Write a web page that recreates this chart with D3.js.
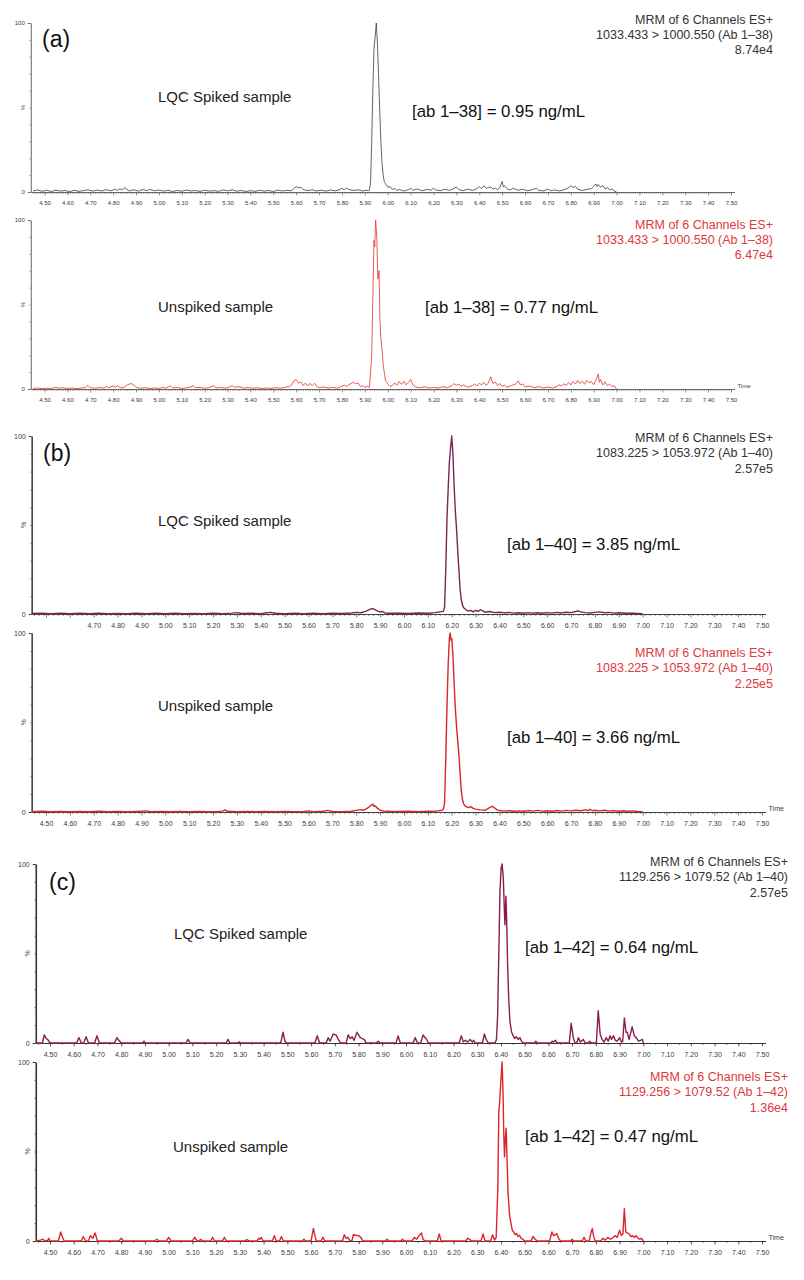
<!DOCTYPE html>
<html>
<head>
<meta charset="utf-8">
<script src="https://cdn.jsdelivr.net/npm/d3@7"></script>
<style>
  body { margin: 0; background: #fff; }
  svg { display: block; font-family: "Liberation Sans", Arial, sans-serif; }
</style>
</head>
<body>
<svg id="chart" width="804" height="1280"></svg>
<script>
// ---- data: [time (min), intensity (%)] ----
const traceA1 = [
  [4.45,0.6],[4.47,1.2],[4.49,0.4],[4.51,1.0],[4.53,0.3],[4.55,1.1],[4.57,0.5],[4.59,0.9],[4.61,0.2],[4.63,1.0],
  [4.65,0.4],[4.67,0.8],[4.69,1.3],[4.71,0.5],[4.73,1.1],[4.75,0.6],[4.77,1.4],[4.79,0.7],[4.81,1.6],[4.82,0.9],
  [4.83,2.0],[4.84,1.2],[4.85,2.6],[4.86,1.5],[4.87,0.6],[4.89,1.3],[4.91,0.5],[4.93,1.4],[4.95,0.8],[4.96,1.6],
  [4.98,0.7],[5.00,1.2],[5.02,0.5],[5.04,1.0],[5.06,0.3],[5.08,0.9],[5.10,0.4],[5.12,1.2],[5.14,0.6],[5.16,0.9],
  [5.18,0.3],[5.20,1.1],[5.22,0.5],[5.24,0.8],[5.26,0.4],[5.28,1.2],[5.30,0.7],[5.32,1.3],[5.34,0.5],[5.36,0.9],
  [5.38,0.3],[5.40,0.8],[5.42,0.4],[5.44,1.0],[5.46,0.5],[5.48,0.9],[5.50,0.3],[5.52,1.1],[5.54,0.6],[5.56,1.0],
  [5.58,0.7],[5.59,2.2],[5.60,3.2],[5.61,2.4],[5.62,2.9],[5.63,1.4],[5.65,0.8],[5.67,1.3],[5.69,0.6],[5.71,1.1],
  [5.73,0.5],[5.75,1.2],[5.77,0.7],[5.79,1.4],[5.80,2.2],[5.81,1.3],[5.82,2.4],[5.83,1.5],[5.85,0.9],[5.87,1.3],
  [5.89,0.6],[5.905,1.0],[5.915,0.8],[5.92,1.0],[5.925,6],[5.93,30],[5.935,62],[5.94,85],[5.945,92],[5.95,100],
  [5.955,88],[5.96,68],[5.965,48],[5.97,30],[5.975,17],[5.98,10],[5.985,6],[5.99,5],[5.995,4],[6.00,2.8],
  [6.01,3.3],[6.02,1.5],[6.03,2.2],[6.04,0.8],[6.05,1.5],[6.07,0.6],[6.09,1.4],[6.10,2.2],[6.11,1.0],[6.13,1.8],
  [6.15,0.7],[6.17,1.5],[6.19,1.1],[6.20,2.3],[6.21,1.2],[6.23,0.8],[6.25,1.6],[6.27,0.9],[6.29,2.1],[6.30,3.0],
  [6.31,1.4],[6.33,0.8],[6.35,1.7],[6.37,0.9],[6.39,2.0],[6.40,3.2],[6.41,2.0],[6.42,3.6],[6.43,2.2],[6.45,3.0],
  [6.46,1.6],[6.47,2.4],[6.48,1.3],[6.49,2.8],[6.50,6.2],[6.505,3.0],[6.51,3.8],[6.52,2.0],[6.53,1.2],[6.55,2.1],
  [6.57,1.0],[6.59,1.6],[6.61,0.7],[6.63,1.3],[6.65,2.2],[6.66,1.0],[6.68,0.6],[6.70,1.8],[6.71,0.8],[6.73,1.2],
  [6.75,0.6],[6.77,1.3],[6.79,2.4],[6.80,3.8],[6.81,2.6],[6.82,3.4],[6.83,1.6],[6.85,0.9],[6.87,1.5],[6.89,2.0],
  [6.90,3.3],[6.91,4.8],[6.915,3.2],[6.92,4.4],[6.93,2.8],[6.94,3.8],[6.95,1.8],[6.96,2.6],[6.97,1.2],[6.98,1.8],
  [6.99,0.6],[7.00,0]
];

const traceA2 = [
  [4.45,0.3],[4.47,0.6],[4.49,0.2],[4.51,0.5],[4.53,0.3],[4.55,1.0],[4.56,0.4],[4.58,0.8],[4.60,0.3],[4.62,0.6],
  [4.64,0.2],[4.66,0.5],[4.68,0.9],[4.69,2.2],[4.70,0.8],[4.72,0.4],[4.74,0.9],[4.76,0.5],[4.77,1.5],[4.78,0.7],
  [4.80,1.8],[4.81,1.1],[4.82,2.0],[4.83,0.7],[4.85,1.0],[4.86,2.2],[4.87,2.9],[4.88,3.2],[4.89,2.4],[4.90,1.0],
  [4.92,0.4],[4.94,0.8],[4.96,0.3],[4.98,0.6],[5.00,0.3],[5.02,1.0],[5.03,0.5],[5.05,1.8],[5.06,0.6],[5.08,0.9],
  [5.10,0.3],[5.12,0.7],[5.14,1.2],[5.15,1.9],[5.16,0.8],[5.18,1.0],[5.20,0.4],[5.22,0.8],[5.24,2.0],[5.25,0.6],
  [5.27,0.9],[5.29,0.4],[5.31,1.3],[5.32,2.0],[5.33,1.0],[5.35,1.4],[5.37,0.5],[5.39,0.9],[5.41,0.4],[5.43,0.7],
  [5.45,0.3],[5.47,0.6],[5.49,0.3],[5.51,0.8],[5.53,0.4],[5.55,0.9],[5.57,1.5],[5.58,2.5],[5.59,4.8],[5.60,5.6],
  [5.61,3.5],[5.62,4.2],[5.63,2.0],[5.64,3.5],[5.65,1.8],[5.66,3.3],[5.67,2.0],[5.68,3.4],[5.69,1.5],[5.70,0.8],
  [5.72,1.2],[5.74,0.5],[5.76,1.0],[5.78,0.4],[5.80,1.6],[5.81,2.3],[5.82,1.4],[5.83,2.6],[5.84,3.2],[5.85,4.0],
  [5.86,3.0],[5.87,3.6],[5.88,1.5],[5.89,2.0],[5.90,0.8],[5.91,1.6],[5.92,1.0],[5.93,20],[5.935,55],[5.94,88],
  [5.943,84],[5.947,100],[5.952,90],[5.957,65],[5.962,70],[5.966,40],[5.97,30],[5.976,22],[5.98,14],[5.986,9],
  [5.99,5],[6.00,3],[6.01,1.5],[6.02,2.0],[6.03,3.6],[6.04,2.2],[6.05,4.4],[6.06,2.8],[6.07,4.6],[6.08,2.5],
  [6.09,3.8],[6.10,5.6],[6.11,2.4],[6.12,1.2],[6.14,0.7],[6.16,1.3],[6.18,0.6],[6.20,1.0],[6.22,0.5],[6.24,1.4],
  [6.26,0.8],[6.28,2.0],[6.29,3.2],[6.30,2.2],[6.31,3.0],[6.32,1.6],[6.33,2.4],[6.35,1.0],[6.37,2.0],[6.38,3.0],
  [6.39,1.8],[6.40,3.4],[6.41,2.4],[6.42,4.0],[6.43,2.2],[6.44,3.5],[6.45,7.2],[6.46,3.2],[6.47,4.2],[6.48,2.0],
  [6.49,3.2],[6.50,1.5],[6.51,2.4],[6.52,1.0],[6.54,2.0],[6.56,3.0],[6.57,4.8],[6.58,2.4],[6.59,3.0],[6.60,1.2],
  [6.62,1.8],[6.64,0.7],[6.66,1.4],[6.68,0.6],[6.70,1.2],[6.72,0.5],[6.74,1.5],[6.75,2.5],[6.76,1.8],[6.77,3.0],
  [6.78,2.2],[6.79,3.8],[6.80,2.4],[6.81,4.5],[6.82,3.0],[6.83,5.0],[6.84,3.2],[6.85,4.6],[6.86,2.8],[6.87,5.2],
  [6.88,3.6],[6.89,4.4],[6.90,2.6],[6.91,5.4],[6.92,8.8],[6.925,4.0],[6.93,5.6],[6.94,2.4],[6.95,4.2],[6.96,2.0],
  [6.97,3.0],[6.98,1.4],[6.99,2.0],[7.00,0]
];

const traceB1 = [
  [4.44,0.3],[4.48,0.5],[4.52,0.2],[4.56,0.4],[4.60,0.1],[4.64,0.4],[4.68,0.2],[4.72,0.5],[4.76,0.2],[4.80,0.3],
  [4.84,0.1],[4.88,0.4],[4.92,0.2],[4.96,0.5],[5.00,0.2],[5.04,0.4],[5.08,0.2],[5.12,0.3],[5.16,0.1],[5.20,0.4],
  [5.24,0.2],[5.28,0.5],[5.30,0.8],[5.32,0.3],[5.36,0.4],[5.40,0.2],[5.42,0.6],[5.44,0.9],[5.46,0.4],[5.50,0.2],
  [5.54,0.4],[5.58,0.2],[5.62,0.5],[5.66,0.2],[5.70,0.4],[5.74,0.3],[5.78,0.6],[5.80,0.9],[5.82,0.7],[5.84,1.5],
  [5.85,2.2],[5.86,2.8],[5.87,3.0],[5.88,2.3],[5.89,1.6],[5.90,1.2],[5.91,1.4],[5.92,0.6],[5.94,0.4],[5.98,0.5],
  [6.02,0.3],[6.06,0.6],[6.10,0.4],[6.13,0.8],[6.15,1.2],[6.165,1.5],[6.17,4],[6.175,25],[6.18,53],[6.185,70],
  [6.19,85],[6.195,93],[6.20,100],[6.205,90],[6.21,72],[6.215,58],[6.22,48],[6.225,36],[6.23,25],[6.235,14],
  [6.24,8],[6.245,5],[6.25,3.5],[6.26,2.4],[6.27,1.6],[6.28,2.0],[6.29,1.2],[6.30,2.0],[6.31,1.5],[6.32,2.4],
  [6.33,1.8],[6.34,1.0],[6.36,1.4],[6.38,0.8],[6.40,1.0],[6.42,0.6],[6.44,0.9],[6.46,0.5],[6.48,0.7],[6.50,0.4],
  [6.52,0.8],[6.54,0.5],[6.56,0.7],[6.58,0.4],[6.60,0.8],[6.62,0.5],[6.64,0.9],[6.66,0.6],[6.68,1.0],[6.70,0.8],
  [6.72,1.4],[6.73,1.8],[6.74,1.2],[6.76,0.8],[6.78,0.6],[6.80,0.9],[6.82,1.2],[6.84,0.7],[6.86,0.9],[6.88,0.5],
  [6.90,0.7],[6.93,0.4],[6.96,0.5],[7.00,0.2]
];

const traceB2 = [
  [4.44,0.2],[4.48,0.4],[4.52,0.1],[4.56,0.3],[4.60,0.1],[4.64,0.3],[4.68,0.1],[4.72,0.4],[4.76,0.2],[4.80,0.3],
  [4.84,0.1],[4.88,0.3],[4.92,0.6],[4.94,0.2],[4.98,0.3],[5.02,0.1],[5.06,0.3],[5.10,0.2],[5.14,0.3],[5.18,0.1],
  [5.22,0.3],[5.24,0.5],[5.25,1.2],[5.26,0.4],[5.30,0.2],[5.34,0.3],[5.38,0.1],[5.42,0.3],[5.46,0.2],[5.50,0.3],
  [5.54,0.2],[5.58,0.3],[5.60,0.6],[5.62,0.2],[5.66,0.4],[5.68,0.9],[5.70,0.3],[5.74,0.2],[5.78,0.4],[5.80,0.9],
  [5.82,1.3],[5.83,1.0],[5.84,1.6],[5.85,2.4],[5.86,3.6],[5.87,4.4],[5.875,3.0],[5.88,3.4],[5.89,2.0],[5.90,1.0],
  [5.91,0.6],[5.94,0.4],[5.98,0.3],[6.02,0.4],[6.06,0.2],[6.10,0.4],[6.14,0.6],[6.16,1.0],[6.165,1.5],[6.17,5],
  [6.175,30],[6.18,58],[6.185,82],[6.19,97],[6.193,100],[6.197,96],[6.20,97],[6.205,88],[6.21,72],[6.215,58],
  [6.22,48],[6.225,40],[6.23,32],[6.235,22],[6.24,12],[6.245,7],[6.25,4.5],[6.255,3.6],[6.26,3.0],[6.27,2.4],
  [6.28,3.0],[6.29,2.0],[6.30,1.6],[6.32,1.2],[6.34,1.0],[6.35,1.8],[6.36,2.6],[6.37,3.2],[6.38,2.2],[6.39,1.2],
  [6.40,0.8],[6.42,0.5],[6.44,0.7],[6.46,0.4],[6.48,0.6],[6.50,0.4],[6.52,0.8],[6.54,0.5],[6.56,0.9],[6.58,0.5],
  [6.60,0.7],[6.62,0.4],[6.64,0.8],[6.66,0.5],[6.68,0.9],[6.70,0.6],[6.72,1.0],[6.74,0.7],[6.76,1.2],[6.77,0.8],
  [6.78,1.4],[6.79,0.7],[6.80,1.0],[6.82,0.6],[6.84,1.0],[6.86,0.5],[6.88,0.8],[6.90,0.4],[6.92,0.7],[6.94,0.4],
  [6.96,0.6],[6.98,0.3],[7.00,0.2]
];

const traceC1 = [
  [4.44,0],[4.468,0],[4.476,4.5],[4.484,2.5],[4.49,2.0],[4.50,0],[4.612,0],[4.622,3],[4.632,0],[4.642,0],
  [4.652,3.5],[4.662,0],[4.688,0],[4.698,4],[4.708,0],[4.772,0],[4.782,3],[4.79,1.5],[4.80,0],[4.89,0],
  [4.896,1],[4.902,0],[5.074,0],[5.082,2],[5.09,0],[5.242,0],[5.25,2],[5.258,0],[5.29,0],[5.297,0.6],
  [5.304,0],[5.472,0],[5.482,6],[5.49,1],[5.496,0],[5.616,0],[5.626,4],[5.636,0],[5.664,0],[5.672,3],
  [5.68,1],[5.693,5],[5.705,4.5],[5.715,2],[5.724,0],[5.748,0],[5.756,4.5],[5.765,2.5],[5.773,3.5],[5.781,1.5],
  [5.794,6],[5.807,3],[5.816,2.5],[5.824,2],[5.832,0],[5.876,0],[5.883,1],[5.89,0],[5.958,0],[5.967,4],
  [5.976,0],[6.03,0],[6.039,3],[6.048,0],[6.062,0],[6.072,4.5],[6.08,3],[6.085,2.5],[6.094,0],[6.224,0],
  [6.233,4],[6.242,0.5],[6.25,1.5],[6.26,0.5],[6.27,2],[6.28,0.5],[6.285,1.5],[6.292,0],[6.322,0],[6.33,5],
  [6.338,2],[6.346,0],[6.375,0],[6.381,2],[6.386,15],[6.391,50],[6.396,85],[6.401,98],[6.405,100],[6.41,92],
  [6.414,76],[6.417,66],[6.421,82],[6.424,70],[6.428,44],[6.433,24],[6.438,12],[6.445,6],[6.452,4],[6.458,2.5],
  [6.465,3.5],[6.473,2],[6.48,3],[6.487,1],[6.494,0],[6.54,0],[6.547,1],[6.554,0],[6.61,0],[6.616,1],
  [6.622,0.5],[6.63,1.5],[6.636,0],[6.688,0],[6.696,11],[6.705,3],[6.712,0],[6.72,0],[6.726,3],[6.735,0.5],
  [6.747,2],[6.755,0],[6.768,0],[6.774,1],[6.78,0],[6.802,0],[6.81,18],[6.818,5],[6.826,2],[6.834,0.5],
  [6.844,3],[6.852,1],[6.86,4],[6.866,2],[6.874,4],[6.882,1.5],[6.89,1],[6.9,3],[6.908,0.5],[6.913,1],
  [6.92,14],[6.927,6],[6.932,6],[6.94,2],[6.953,9],[6.962,4],[6.97,3],[6.98,1],[6.988,1.5],[6.996,2],[7.00,0]
];

const traceC2 = [
  [4.44,0],[4.46,0.5],[4.47,1.0],[4.48,0],[4.49,0.3],[4.495,1.5],[4.50,0],[4.535,0],[4.545,5],[4.553,2],
  [4.56,0],[4.632,0],[4.64,2.5],[4.65,0],[4.662,0],[4.67,3],[4.68,1.5],[4.69,4.5],[4.70,0],[4.79,0],
  [4.80,1.5],[4.81,0],[4.94,0],[4.95,1],[4.96,0],[4.99,0],[5.00,2],[5.01,0],[5.10,0],[5.11,2],
  [5.12,0],[5.128,0],[5.135,1],[5.142,0],[5.177,0],[5.185,2],[5.193,0],[5.227,0],[5.235,2],[5.243,0],
  [5.32,0],[5.33,0.8],[5.34,0],[5.372,0],[5.38,1.5],[5.385,1],[5.39,2],[5.398,0],[5.437,0],[5.445,3],
  [5.453,0],[5.467,0],[5.475,2.5],[5.483,0],[5.562,0],[5.57,1],[5.578,0],[5.6,0],[5.61,7],[5.618,2],
  [5.622,0],[5.642,0],[5.65,2],[5.658,0],[5.732,0],[5.74,3.5],[5.748,1.5],[5.755,2],[5.762,0.5],[5.772,0],
  [5.778,3.5],[5.79,3.2],[5.80,3],[5.81,2],[5.818,0],[5.912,0],[5.92,1],[5.928,0],[5.978,0],[5.985,1],
  [5.992,0],[6.025,0],[6.035,2],[6.045,1],[6.055,3],[6.065,4.5],[6.072,1],[6.08,0],[6.132,0],[6.14,4],
  [6.148,0],[6.252,0],[6.26,1.5],[6.268,1],[6.275,0],[6.316,0],[6.325,4],[6.333,0],[6.356,0],[6.365,3.5],
  [6.373,0.5],[6.38,2],[6.387,30],[6.391,72],[6.395,78],[6.399,88],[6.405,100],[6.409,82],[6.412,60],[6.415,47],
  [6.419,58],[6.422,63],[6.426,45],[6.43,27],[6.436,15],[6.442,10],[6.448,6],[6.454,5],[6.46,3.5],[6.466,4.2],
  [6.472,2.5],[6.478,3.2],[6.485,1.5],[6.492,1],[6.50,0],[6.527,0],[6.535,2.5],[6.545,1],[6.552,0],[6.605,0],
  [6.615,5],[6.622,3],[6.635,4],[6.645,1],[6.652,0],[6.695,0],[6.70,1],[6.706,0],[6.742,0],[6.75,2],
  [6.758,0],[6.772,0],[6.78,5],[6.785,7],[6.79,3],[6.797,0],[6.82,0],[6.83,1.5],[6.84,0.5],[6.85,2],
  [6.86,1],[6.87,1.5],[6.88,3],[6.89,2],[6.90,6],[6.907,3],[6.914,4],[6.92,18],[6.926,5],[6.932,4.5],
  [6.94,4],[6.948,2.5],[6.955,3],[6.962,2],[6.97,3],[6.978,1.5],[6.985,1],[6.992,1.5],[7.00,0]
];

// axis tick labels
const timeTicks = [4.50,4.60,4.70,4.80,4.90,5.00,5.10,5.20,5.30,5.40,5.50,5.60,5.70,5.80,5.90,6.00,
  6.10,6.20,6.30,6.40,6.50,6.60,6.70,6.80,6.90,7.00,7.10,7.20,7.30,7.40,7.50];
const timeTicksB1 = timeTicks.slice(2); // 4.50 and 4.60 are not printed in that panel
const yTickLabels = ["0", "%", "100"];

// panel texts
const headerLines = [
  ["MRM of 6 Channels ES+", "1033.433 > 1000.550 (Ab 1–38)", "8.74e4"],
  ["MRM of 6 Channels ES+", "1033.433 > 1000.550 (Ab 1–38)", "6.47e4"],
  ["MRM of 6 Channels ES+", "1083.225 > 1053.972 (Ab 1–40)", "2.57e5"],
  ["MRM of 6 Channels ES+", "1083.225 > 1053.972 (Ab 1–40)", "2.25e5"],
  ["MRM of 6 Channels ES+", "1129.256 > 1079.52 (Ab 1–40)", "2.57e5"],
  ["MRM of 6 Channels ES+", "1129.256 > 1079.52 (Ab 1–42)", "1.36e4"]
];
const sampleNames = ["LQC Spiked sample", "Unspiked sample", "LQC Spiked sample", "Unspiked sample",
  "LQC Spiked sample", "Unspiked sample"];
const concLabels = ["[ab 1–38] = 0.95 ng/mL", "[ab 1–38] = 0.77 ng/mL", "[ab 1–40] = 3.85 ng/mL",
  "[ab 1–40] = 3.66 ng/mL", "[ab 1–42] = 0.64 ng/mL", "[ab 1–42] = 0.47 ng/mL"];
const panelTags = ["(a)", null, "(b)", null, "(c)", null];

// ---- layout of the six stacked traces ----
const layout = [
  { trace: traceA1, color: "#3c3c3c", lw: 0.8, px: [44.5, 731], top: 23, bottom: 192, ticks: timeTicks,
    minor: 0.01, tf: 6, axisColor: "#666", axisW: 1, hdColor: "#333", hdRight: 773, hdY: 23.5,
    tagXY: [42, 46.5], sampleXY: [158, 102], concXY: [412, 117], time: false },
  { trace: traceA2, color: "#e6463f", lw: 0.9, px: [44.5, 731], top: 220, bottom: 389, ticks: timeTicks,
    minor: 0.01, tf: 6, axisColor: "#666", axisW: 1, hdColor: "#e0383c", hdRight: 773, hdY: 228.5,
    sampleXY: [158, 312], concXY: [425, 313], time: true },
  { trace: traceB1, color: "#7b2552", lw: 1.4, px: [46, 762], top: 436, bottom: 614, ticks: timeTicksB1,
    minor: 0.02, tf: 7, axisColor: "#444", axisW: 1.6, hdColor: "#333", hdRight: 773, hdY: 442,
    tagXY: [43, 460.5], sampleXY: [158, 526], concXY: [507, 550], time: false },
  { trace: traceB2, color: "#d8262d", lw: 1.4, px: [46, 762], top: 633, bottom: 812, ticks: timeTicks,
    minor: 0.02, tf: 7, axisColor: "#444", axisW: 1.6, hdColor: "#e0383c", hdRight: 773, hdY: 657,
    sampleXY: [158, 711], concXY: [507, 743], time: true },
  { trace: traceC1, color: "#8a1d4f", lw: 1.4, px: [50, 762], top: 864, bottom: 1043, ticks: timeTicks,
    minor: 0.05, tf: 7, axisColor: "#333", axisW: 1.6, hdColor: "#333", hdRight: 788, hdY: 866,
    tagXY: [49, 889.5], sampleXY: [174, 939], concXY: [525, 953], time: false },
  { trace: traceC2, color: "#e1232b", lw: 1.4, px: [50, 762], top: 1062, bottom: 1241, ticks: timeTicks,
    minor: 0.05, tf: 7, axisColor: "#333", axisW: 1.6, hdColor: "#e0383c", hdRight: 788, hdY: 1081,
    sampleXY: [173, 1152], concXY: [525, 1142], time: true }
];

const svg = d3.select("#chart");

layout.forEach((p, i) => {
  const g = svg.append("g");

  // time scale fixed by where 4.50 and 7.50 sit, then stretched to the axis ends
  const base = d3.scaleLinear().domain([4.5, 7.5]).range(p.px);
  const x = d3.scaleLinear().domain([4.44, 7.515]).range([base(4.44), base(7.515)]);
  const y = d3.scaleLinear().domain([0, 100]).range([p.bottom, p.top]);

  // minor x ticks
  g.append("g")
    .attr("transform", `translate(0,${p.bottom})`)
    .call(d3.axisBottom(x).tickValues(d3.range(4.45, 7.505, p.minor)).tickSize(2).tickFormat(""))
    .call(a => a.select(".domain").remove())
    .call(a => a.selectAll("line").attr("stroke", p.axisColor).attr("stroke-width", 0.6));

  // major x ticks with labels
  g.append("g")
    .attr("transform", `translate(0,${p.bottom})`)
    .call(d3.axisBottom(x).tickValues(timeTicks).tickSize(3.5).tickSizeOuter(0)
      .tickFormat(d => p.ticks.includes(d) ? d3.format(".2f")(d) : ""))
    .call(a => a.select(".domain").attr("stroke", p.axisColor).attr("stroke-width", 1))
    .call(a => a.selectAll("line").attr("stroke", p.axisColor).attr("stroke-width", 0.7))
    .call(a => a.selectAll("text").attr("font-size", p.tf).attr("fill", "#3a3a3a").attr("dy", "1.05em")
      .attr("font-family", "Liberation Sans, Arial, sans-serif"));

  // y axis: minor ticks every 10 %, labels at 0 and 100
  g.append("g")
    .attr("transform", `translate(${x(4.44)},0)`)
    .call(d3.axisLeft(y).tickValues(d3.range(10, 100, 10)).tickSize(1.5).tickFormat(""))
    .call(a => a.select(".domain").remove())
    .call(a => a.selectAll("line").attr("stroke", p.axisColor).attr("stroke-width", 0.6));
  g.append("g")
    .attr("transform", `translate(${x(4.44)},0)`)
    .call(d3.axisLeft(y).tickValues([0, 100]).tickSize(3).tickSizeOuter(0)
      .tickFormat(d => d === 0 ? yTickLabels[0] : yTickLabels[2]))
    .call(a => a.select(".domain").attr("stroke", p.axisColor).attr("stroke-width", p.axisW))
    .call(a => a.selectAll("line").attr("stroke", p.axisColor))
    .call(a => a.selectAll("text").attr("font-size", p.tf).attr("fill", "#3a3a3a")
      .attr("font-family", "Liberation Sans, Arial, sans-serif"));
  g.append("text")
    .attr("transform", `translate(${x(4.44) - 6},${y(50)}) rotate(-90)`)
    .attr("text-anchor", "middle")
    .attr("font-size", p.tf)
    .attr("fill", "#555")
    .text(yTickLabels[1]);

  // the chromatogram trace
  const line = d3.line().x(d => x(d[0])).y(d => y(d[1]));
  g.append("path")
    .datum(p.trace)
    .attr("fill", "none")
    .attr("stroke", p.color)
    .attr("stroke-width", p.lw)
    .attr("stroke-linejoin", "round")
    .attr("d", line);

  if (p.time) {
    g.append("text")
      .attr("x", x(7.515) + 3)
      .attr("y", p.bottom - 1)
      .attr("font-size", p.tf)
      .attr("fill", "#3a3a3a")
      .text("Time");
  }

  // header block at top right
  headerLines[i].forEach((t, k) => {
    g.append("text")
      .attr("x", p.hdRight)
      .attr("y", p.hdY + k * 15.3)
      .attr("text-anchor", "end")
      .attr("font-size", 12.5)
      .attr("fill", p.hdColor)
      .text(t);
  });

  if (panelTags[i]) {
    g.append("text")
      .attr("x", p.tagXY[0])
      .attr("y", p.tagXY[1])
      .attr("font-size", 23)
      .attr("fill", "#111")
      .text(panelTags[i]);
  }

  g.append("text")
    .attr("x", p.sampleXY[0])
    .attr("y", p.sampleXY[1])
    .attr("font-size", 15)
    .attr("fill", "#222")
    .text(sampleNames[i]);

  g.append("text")
    .attr("x", p.concXY[0])
    .attr("y", p.concXY[1])
    .attr("font-size", 16.8)
    .attr("fill", "#111")
    .text(concLabels[i]);
});
</script>
</body>
</html>
